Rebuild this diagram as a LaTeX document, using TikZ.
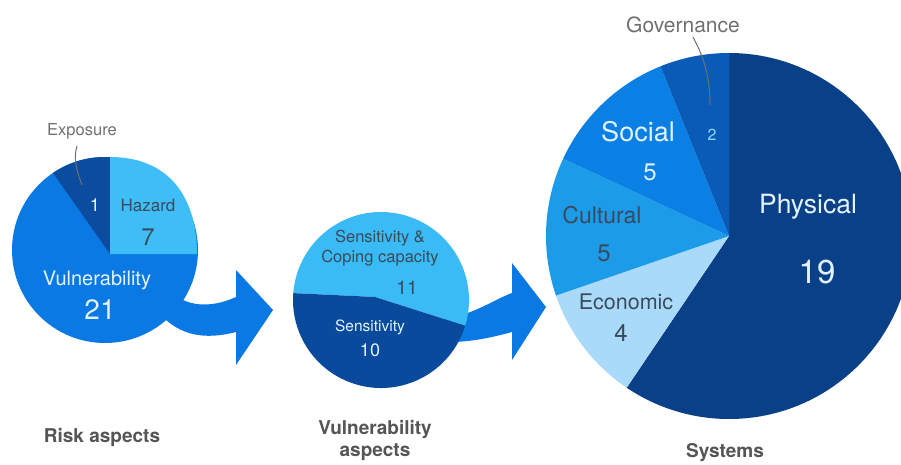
\documentclass[tikz,border=0pt]{standalone}
\usepackage{fontspec}
\setmainfont{TeX Gyre Heros}
\usetikzlibrary{calc}

\definecolor{arrowblue}{HTML}{0B79E3}
\definecolor{expoblue}{HTML}{0B4C9F}
\definecolor{hazblue}{HTML}{3EBDF7}
\definecolor{vulnblue}{HTML}{0B79E3}
\definecolor{copeblue}{HTML}{3ABBF5}
\definecolor{sensblue}{HTML}{0A4A9C}
\definecolor{physblue}{HTML}{0A4088}
\definecolor{govblue}{HTML}{0A5BB8}
\definecolor{socblue}{HTML}{0A80E4}
\definecolor{cultblue}{HTML}{1C9BE8}
\definecolor{econblue}{HTML}{A9DAF9}
\definecolor{lighttext}{HTML}{E2F2FF}
\definecolor{darktext}{HTML}{3B4A5C}
\definecolor{leadgray}{HTML}{707070}
\definecolor{capgray}{HTML}{555555}

\newcommand{\fsz}[1]{\fontsize{#1}{#1}\selectfont}

\tikzset{
  lbl/.style={inner sep=0pt},
  leader/.style={leadgray, line width=1pt},
  caption/.style={inner sep=0pt, capgray, align=center, font=\bfseries\fontsize{19}{22}\selectfont}
}

\begin{document}
\begin{tikzpicture}[x=1pt,y=1pt]
\useasboundingbox[fill=white] (0,0) rectangle (901,464);

% block arrows, behind the pies
\fill[arrowblue] (172,172) .. controls (185,158) and (210,155) .. (236,167) -- (236,194) -- (273,154)
  -- (236,99) -- (236,132) .. controls (205,124) and (180,128) .. (160,150) -- cycle;
\fill[arrowblue] (445,145) .. controls (475,150) and (495,165) .. (512,171) -- (512,201) -- (546,157)
  -- (512,104) -- (512,132) .. controls (490,126) and (470,122) .. (450,122) -- cycle;

% risk aspects
\coordinate (rc) at (105,214);
\coordinate (ro) at (110,210);
\fill[vulnblue] (rc) circle[radius=93];
\fill[expoblue] (ro) -- ($(rc)+(86.9:93)$) arc[start angle=86.9, end angle=124, radius=93] -- cycle;
\fill[hazblue] (ro) -- (110,307) .. controls (168,307) and (197,268) .. (197,210) -- cycle;

\node[lbl, leadgray, font=\fsz{16.5}] (exposure) at (82,333) {Exposure};
\coordinate (exposuretip) at (82,279);
\draw[leader] ([xshift=-5pt,yshift=-7pt]exposure.south) .. controls (73,305) and (77,292) .. (exposuretip);
\node[lbl, lighttext, font=\fsz{18}] (exponum) at (95,259) {1};
\node[lbl, darktext, font=\fsz{17}] (hazard) at (148,259) {Hazard};
\node[lbl, darktext, font=\fsz{24}] (haznum) at (148,227) {7};
\node[lbl, lighttext, font=\fsz{20}] (vuln) at (97,184) {Vulnerability};
\node[lbl, lighttext, font=\fsz{28}] (vulnnum) at (100,154) {21};

% vulnerability aspects
\coordinate (vc) at (381,164);
\fill[copeblue] ($(vc)+(175.5:88)$) arc[start angle=175.5, end angle=-17, radius=88] -- (375,167) -- cycle;
\fill[sensblue] ($(vc)+(-17:88)$) arc[start angle=-17, end angle=-184.5, radius=88] -- (375,167) -- cycle;

\node[lbl, darktext, align=center, font=\fontsize{16.5}{20}\selectfont] (cope) at (380,216) {Sensitivity \&\\Coping capacity};
\node[lbl, darktext, font=\fsz{19}] (copenum) at (407,176) {11};
\node[lbl, lighttext, font=\fsz{15.5}] (sens) at (370,137) {Sensitivity};
\node[lbl, lighttext, font=\fsz{18}] (sensnum) at (370,114) {10};

% systems
\coordinate (sc) at (729,228);
\fill[physblue] (sc) -- ++(90:183) arc[start angle=90, end angle=-124, radius=183] -- cycle;
\fill[econblue] (sc) -- ++(236:183) arc[start angle=236, end angle=199, radius=183] -- cycle;
\fill[cultblue] (sc) -- ++(199:183) arc[start angle=199, end angle=155, radius=183] -- cycle;
\fill[socblue] (sc) -- ++(155:183) arc[start angle=155, end angle=112, radius=183] -- cycle;
\fill[govblue] (sc) -- ++(112:183) arc[start angle=112, end angle=90, radius=183] -- cycle;

\node[lbl, leadgray, font=\fsz{21}] (gov) at (683,439) {Governance};
\coordinate (govtip) at (710,359);
\draw[leader] ([xshift=10pt,yshift=-4pt]gov.south) .. controls (705,405) and (710,385) .. (govtip);
\node[lbl, hazblue!60!white, font=\fsz{16}] (govnum) at (712,329) {2};
\node[lbl, lighttext, font=\fsz{27}] (social) at (638,332) {Social};
\node[lbl, lighttext, font=\fsz{24}] (socnum) at (650,292) {5};
\node[lbl, darktext, font=\fsz{23}] (cultural) at (602,249) {Cultural};
\node[lbl, darktext, font=\fsz{24}] (cultnum) at (604,211) {5};
\node[lbl, darktext, font=\fsz{21.5}] (economic) at (626,162) {Economic};
\node[lbl, darktext, font=\fsz{24}] (econnum) at (621,131) {4};
\node[lbl, lighttext, font=\fsz{26.5}] (physical) at (808,257) {Physical};
\node[lbl, lighttext, font=\fsz{33}] (physnum) at (817,192) {19};

% captions
\node[caption] (riskcap) at (102,27) {Risk aspects};
\node[caption] (vulncap) at (375,24) {Vulnerability\\aspects};
\node[caption] (syscap) at (725,11) {Systems};
\end{tikzpicture}
\end{document}
